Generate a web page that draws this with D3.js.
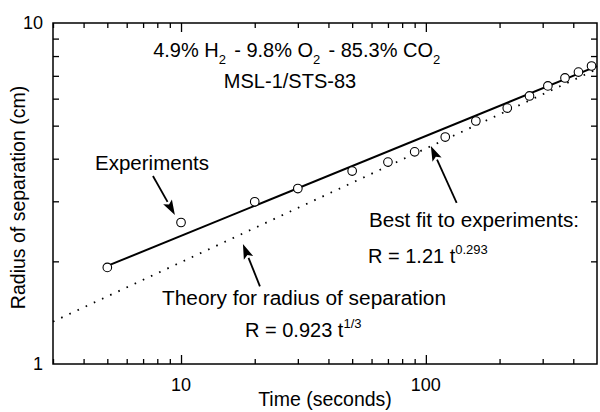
<!DOCTYPE html>
<html>
<head>
<meta charset="utf-8">
<script src="https://cdn.jsdelivr.net/npm/d3@7"></script>
<style>
  body { margin: 0; background: #fff; }
  svg { display: block; font-family: "Liberation Sans", Arial, sans-serif; }
</style>
</head>
<body>
<svg id="chart" width="600" height="412"></svg>
<script>
// Experimental data (time in s, radius in cm)
const times = [5, 10, 20, 30, 50, 70, 90, 120, 160, 215, 265, 315, 370, 420, 475];
const radii = [1.92, 2.60, 2.99, 3.27, 3.68, 3.91, 4.19, 4.63, 5.16, 5.63, 6.11, 6.54, 6.90, 7.18, 7.48];

// Power laws R = a t^b
const fitCoef = 1.21, fitExp = 0.293, fitRange = [5, 500];
const theoryCoef = 0.923, theoryExp = 1 / 3, theoryRange = [3, 500];

const xDomain = [3, 500];
const yDomain = [1, 10];
const xMajor = [10, 100];
const xMinor = [3, 4, 5, 6, 7, 8, 9, 20, 30, 40, 50, 60, 70, 80, 90, 200, 300, 400];
const yMajor = [1, 10];
const yMinor = [2, 3, 4, 5, 6, 7, 8, 9];

const margin = { top: 23, right: 3, bottom: 48, left: 53 };
const W = 600, H = 412;
const width = W - margin.left - margin.right;
const height = H - margin.top - margin.bottom;

const svg = d3.select('#chart');
const g = svg.append('g').attr('transform', `translate(${margin.left},${margin.top})`);

const x = d3.scaleLog().domain(xDomain).range([0, width]);
const y = d3.scaleLog().domain(yDomain).range([height, 0]);

// Frame
g.append('rect')
  .attr('width', width).attr('height', height)
  .attr('fill', 'none').attr('stroke', '#000').attr('stroke-width', 1.5);

// Ticks (inside) on all four sides
g.append('g').call(d3.axisTop(x).tickValues(xMajor).tickSize(9).tickFormat(''))
  .attr('transform', `translate(0,${height})`);
g.append('g').call(d3.axisTop(x).tickValues(xMinor).tickSize(5).tickFormat(''))
  .attr('transform', `translate(0,${height})`);
g.append('g').call(d3.axisBottom(x).tickValues(xMajor).tickSize(9).tickFormat(''));
g.append('g').call(d3.axisBottom(x).tickValues(xMinor).tickSize(5).tickFormat(''));
g.append('g').call(d3.axisRight(y).tickValues(yMinor).tickSize(6).tickFormat(''));
g.append('g').call(d3.axisLeft(y).tickValues(yMinor).tickSize(6).tickFormat(''))
  .attr('transform', `translate(${width},0)`);
g.selectAll('.domain').remove();
g.selectAll('.tick line').attr('stroke', '#000').attr('stroke-width', 1.3);

// Tick labels
g.selectAll('.xlab').data(xMajor).enter().append('text')
  .attr('x', d => x(d)).attr('y', height + 27)
  .attr('text-anchor', 'middle').attr('font-size', 18).text(d => d);
g.selectAll('.ylab').data(yMajor).enter().append('text')
  .attr('x', -10).attr('y', d => y(d) + 6)
  .attr('text-anchor', 'end').attr('font-size', 18).text(d => d);

// Axis titles
svg.append('text')
  .attr('x', margin.left + x(Math.sqrt(3 * 500))).attr('y', 406)
  .attr('text-anchor', 'middle').attr('font-size', 19.5).text('Time (seconds)');
svg.append('text')
  .attr('transform', `translate(25,${margin.top + height / 2 + 4}) rotate(-90)`)
  .attr('text-anchor', 'middle').attr('font-size', 19.5).text('Radius of separation (cm)');

// Power-law lines
const line = d3.line().x(d => x(d[0])).y(d => y(d[1]));
const powerPts = (a, b, r) => r.map(t => [t, a * Math.pow(t, b)]);

g.append('path')
  .attr('d', line(powerPts(theoryCoef, theoryExp, theoryRange)))
  .attr('fill', 'none').attr('stroke', '#000')
  .attr('stroke-width', 1.8).attr('stroke-dasharray', '1.6,7.4');
g.append('path')
  .attr('d', line(powerPts(fitCoef, fitExp, fitRange)))
  .attr('fill', 'none').attr('stroke', '#000').attr('stroke-width', 2);

// Experimental points
g.selectAll('.pt').data(times).enter().append('circle')
  .attr('cx', d => x(d)).attr('cy', (d, i) => y(radii[i]))
  .attr('r', 4.3).attr('fill', '#fff').attr('stroke', '#000').attr('stroke-width', 1.1);

// Annotation arrows, [from, to] in data units
const arrows = [
  [[7.68, 3.56], [9.44, 2.735]],
  [[133.6, 2.97], [104.8, 4.36]],
  [[21.0, 1.69], [17.9, 2.25]]
];
arrows.forEach(([a, b]) => {
  const x1 = x(a[0]), y1 = y(a[1]), x2 = x(b[0]), y2 = y(b[1]);
  const ang = Math.atan2(y2 - y1, x2 - x1);
  const L = 15, Wd = 5;
  const bx = x2 - L * Math.cos(ang), by = y2 - L * Math.sin(ang);
  g.append('line').attr('x1', x1).attr('y1', y1).attr('x2', bx).attr('y2', by)
    .attr('stroke', '#000').attr('stroke-width', 1.8);
  g.append('path')
    .attr('d', `M${x2},${y2}L${bx + Wd * Math.sin(ang)},${by - Wd * Math.cos(ang)}` +
      `L${bx + 3 * Math.cos(ang)},${by + 3 * Math.sin(ang)}` +
      `L${bx - Wd * Math.sin(ang)},${by + Wd * Math.cos(ang)}Z`)
    .attr('fill', '#000');
});

// Annotation texts
const ann = svg.append('g').attr('font-size', 20);
ann.append('text').attr('x', 95).attr('y', 170)
  .attr('textLength', 114).attr('lengthAdjust', 'spacingAndGlyphs').text('Experiments');
ann.append('text').attr('x', 369).attr('y', 227)
  .attr('textLength', 210).attr('lengthAdjust', 'spacingAndGlyphs').text('Best fit to experiments:');
const t1 = ann.append('text').attr('x', 368).attr('y', 263);
t1.append('tspan').text('R = 1.21 t');
t1.append('tspan').attr('dy', -9).attr('font-size', 13).text('0.293');
ann.append('text').attr('x', 162).attr('y', 305)
  .attr('textLength', 284).attr('lengthAdjust', 'spacingAndGlyphs').text('Theory for radius of separation');
const t2 = ann.append('text').attr('x', 245).attr('y', 337);
t2.append('tspan').text('R = 0.923 t');
t2.append('tspan').attr('dy', -9).attr('font-size', 13).text('1/3');

// Title lines
const title = ann.append('text').attr('x', 298).attr('y', 57).attr('text-anchor', 'middle');
const parts = [['4.9% H', '2'], [' - 9.8% O', '2'], [' - 85.3% CO', '2']];
parts.forEach(([main, sub]) => {
  title.append('tspan').attr('dy', 0).text(main);
  title.append('tspan').attr('dy', 7).attr('font-size', 13).text(sub);
  title.append('tspan').attr('dy', -7).attr('font-size', 13).text('\u2009');
});
ann.append('text').attr('x', 290).attr('y', 88).attr('text-anchor', 'middle').text('MSL-1/STS-83');
</script>
</body>
</html>
